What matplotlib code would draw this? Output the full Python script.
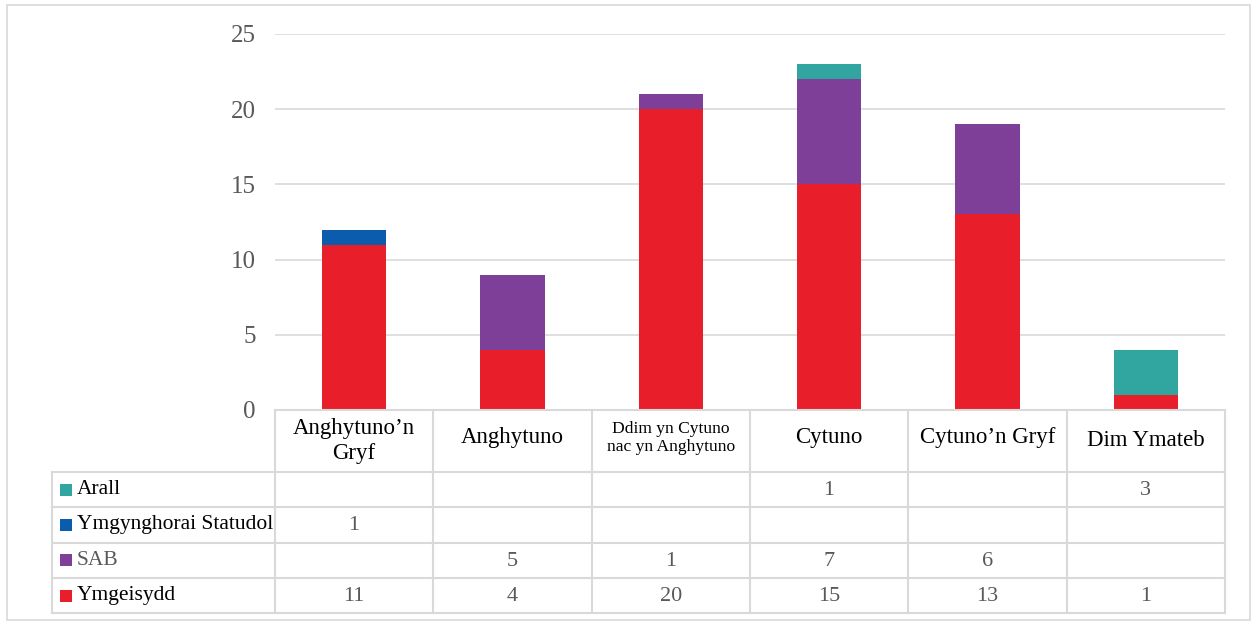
import matplotlib.pyplot as plt
from matplotlib.patches import Rectangle
import numpy as np

plt.rcParams['font.family'] = ['Liberation Serif', 'DejaVu Serif']

categories = ["Anghytuno\u2019n\nGryf", "Anghytuno", "Ddim yn Cytuno\nnac yn Anghytuno",
              "Cytuno", "Cytuno\u2019n Gryf", "Dim Ymateb"]
series_names = ["Arall", "Ymgynghorai Statudol", "SAB", "Ymgeisydd"]
ymgeisydd = [11, 4, 20, 15, 13, 1]
sab = [0, 5, 1, 7, 6, 0]
statudol = [1, 0, 0, 0, 0, 0]
arall = [0, 0, 0, 1, 0, 3]
colors = {"Ymgeisydd": "#E81E2A", "SAB": "#7E3F98",
          "Ymgynghorai Statudol": "#0B5CAD", "Arall": "#31A6A1"}
yticks = [0, 5, 10, 15, 20, 25]

W, H = 1253, 624
fig = plt.figure(figsize=(W / 100, H / 100), dpi=100)

def fr(x0, y0, x1, y1):
    # pixel box -> figure fraction [l, b, w, h]
    return [x0 / W, 1 - y1 / H, (x1 - x0) / W, (y1 - y0) / H]

# outer frame
fig.patches.append(Rectangle((7 / W, 1 - 620 / H), 1243 / W, 615 / H, transform=fig.transFigure,
                             fill=False, edgecolor="#D9D9D9", linewidth=1.2))

ax = fig.add_axes(fr(275, 34, 1225, 410))
x = np.arange(len(categories))
vals = {"Ymgeisydd": ymgeisydd, "SAB": sab, "Ymgynghorai Statudol": statudol, "Arall": arall}
bottom = np.zeros(len(categories))
for name in ["Ymgeisydd", "SAB", "Ymgynghorai Statudol", "Arall"]:
    v = np.array(vals[name], dtype=float)
    ax.bar(x, v, width=0.405, bottom=bottom, color=colors[name], zorder=3)
    bottom += v
ax.set_xlim(-0.5, len(categories) - 0.5)
ax.set_ylim(0, 25)
ax.set_yticks(yticks)
ax.grid(axis="y", color="#D9D9D9", linewidth=1.2, zorder=0)
ax.tick_params(axis="y", length=0, labelsize=18, labelcolor="#595959", pad=14)
ax.set_xticks([])
for s in ax.spines.values():
    s.set_visible(False)

# data table
header_h = 62
row_h = 35.3
tab_top, tab_bot = 410, 410 + header_h + 4 * row_h
left_w = 223 / (950 / 6)
tx = fig.add_axes(fr(52, tab_top, 1225, tab_bot))
tx.set_xlim(-0.5 - left_w, len(categories) - 0.5)
tx.set_ylim(tab_bot - tab_top, 0)
tx.axis("off")
lc = "#D9D9D9"
lw = 1.5
xl = -0.5 - left_w
xr = len(categories) - 0.5
# horizontal lines
tx.plot([-0.5, xr], [0, 0], color=lc, lw=lw, clip_on=False)
for r in range(5):
    y = header_h + r * row_h
    tx.plot([xl, xr], [y, y], color=lc, lw=lw, clip_on=False)
# vertical lines
tx.plot([xl, xl], [header_h, header_h + 4 * row_h], color=lc, lw=lw, clip_on=False)
for i in range(len(categories) + 1):
    xv = i - 0.5
    tx.plot([xv, xv], [0, header_h + 4 * row_h], color=lc, lw=lw, clip_on=False)

for i, c in enumerate(categories):
    if i == 2:
        tx.text(i, 28, c, ha="center", va="center", fontsize=12.6, color="#000000", linespacing=1.2)
    elif i == 0:
        tx.text(i, 31, c, ha="center", va="center", fontsize=16.5, color="#000000", linespacing=1.25)
    else:
        tx.text(i, 27 if i != 5 else 30, c, ha="center", va="center", fontsize=16.5, color="#000000")

for r, name in enumerate(series_names):
    yc = header_h + r * row_h + row_h / 2
    tx.add_patch(Rectangle((xl + 0.05, yc - 6), 0.075, 12, facecolor=colors[name], edgecolor="none",
                           clip_on=False))
    tx.text(xl + 0.155, yc, name, ha="left", va="center", fontsize=15.5,
            color="#595959" if name == "SAB" else "#000000", zorder=5,
            bbox=dict(facecolor="white", edgecolor="none", pad=0) if name == "Ymgynghorai Statudol" else None)
    for i, v in enumerate(vals[name]):
        if v:
            tx.text(i, yc + 1, str(v), ha="center", va="center", fontsize=16, color="#595959")

fig.savefig("out.png", dpi=100)
